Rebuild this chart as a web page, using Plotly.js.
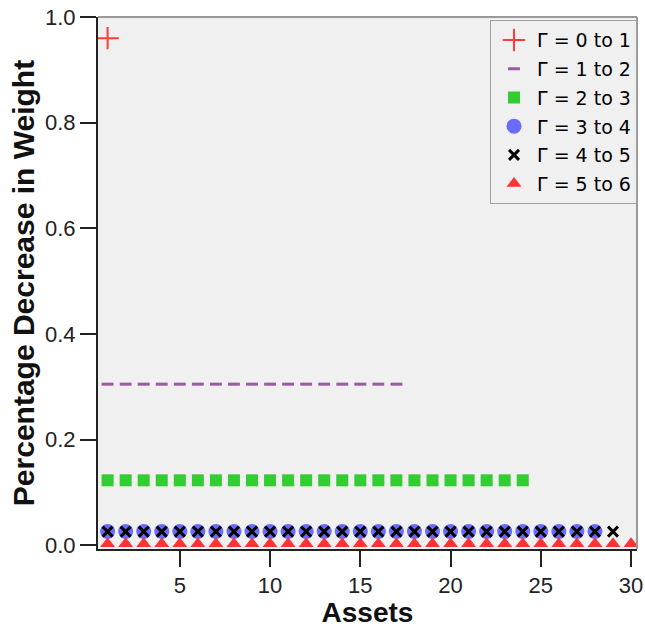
<!DOCTYPE html>
<html>
<head>
<meta charset="utf-8">
<script src="https://cdn.plot.ly/plotly-3.0.1.min.js"></script>
<style>html,body{margin:0;padding:0;background:#fff}#chart{width:645px;height:628px}</style>
</head>
<body>
<div id="chart"></div>
<script>
// Data
const seriesNames = ["Γ = 0 to 1", "Γ = 1 to 2", "Γ = 2 to 3", "Γ = 3 to 4", "Γ = 4 to 5", "Γ = 5 to 6"];
const assets01 = [1];
const values01 = [0.96];
const assets12 = [1,2,3,4,5,6,7,8,9,10,11,12,13,14,15,16,17];
const values12 = [0.305,0.305,0.305,0.305,0.305,0.305,0.305,0.305,0.305,0.305,0.305,0.305,0.305,0.305,0.305,0.305,0.305];
const assets23 = [1,2,3,4,5,6,7,8,9,10,11,12,13,14,15,16,17,18,19,20,21,22,23,24];
const values23 = [0.123,0.123,0.123,0.123,0.123,0.123,0.123,0.123,0.123,0.123,0.123,0.123,0.123,0.123,0.123,0.123,0.123,0.123,0.123,0.123,0.123,0.123,0.123,0.123];
const assets34 = [1,2,3,4,5,6,7,8,9,10,11,12,13,14,15,16,17,18,19,20,21,22,23,24,25,26,27,28];
const values34 = [0.026,0.026,0.026,0.026,0.026,0.026,0.026,0.026,0.026,0.026,0.026,0.026,0.026,0.026,0.026,0.026,0.026,0.026,0.026,0.026,0.026,0.026,0.026,0.026,0.026,0.026,0.026,0.026];
const assets45 = [1,2,3,4,5,6,7,8,9,10,11,12,13,14,15,16,17,18,19,20,21,22,23,24,25,26,27,28,29];
const values45 = [0.026,0.026,0.026,0.026,0.026,0.026,0.026,0.026,0.026,0.026,0.026,0.026,0.026,0.026,0.026,0.026,0.026,0.026,0.026,0.026,0.026,0.026,0.026,0.026,0.026,0.026,0.026,0.026,0.026];
const assets56 = [1,2,3,4,5,6,7,8,9,10,11,12,13,14,15,16,17,18,19,20,21,22,23,24,25,26,27,28,29,30];
const values56 = [0.003,0.003,0.003,0.003,0.003,0.003,0.003,0.003,0.003,0.003,0.003,0.003,0.003,0.003,0.003,0.003,0.003,0.003,0.003,0.003,0.003,0.003,0.003,0.003,0.003,0.003,0.003,0.003,0.003,0.003];
const xTicks = [5,10,15,20,25,30];
const yTicks = [0,0.2,0.4,0.6,0.8,1.0];
const yTickText = ["0.0","0.2","0.4","0.6","0.8","1.0"];

const traces = [
  {x: assets01, y: values01, name: seriesNames[0], legendgroup: "g0", mode: "markers", type: "scatter",
   marker: {symbol: "cross-thin-open", size: 16, line: {color: "#ff3b3b", width: 2}, color: "#ff3b3b"}},
  {x: assets12, y: values12, name: seriesNames[1], legendgroup: "g1", mode: "markers", type: "scatter",
   marker: {symbol: "line-ew-open", size: 8.5, line: {color: "#9a5a9e", width: 3}, color: "#9a5a9e"}},
  {x: assets23, y: values23, name: seriesNames[2], legendgroup: "g2", mode: "markers", type: "scatter",
   marker: {symbol: "square", size: 12, color: "#33cc33", line: {width: 0}}},
  {x: assets34, y: values34, name: seriesNames[3], legendgroup: "g3", mode: "markers", type: "scatter",
   marker: {symbol: "circle", size: 15, color: "#6b6bff", line: {width: 0}}},
  {x: assets45, y: values45, name: seriesNames[4], legendgroup: "g4", mode: "markers", type: "scatter",
   marker: {symbol: "x-thin-open", size: 10, line: {color: "#000000", width: 3}, color: "#000000"}},
  {x: assets56, y: values56, name: seriesNames[5], legendgroup: "g5", mode: "markers", type: "scatter",
   marker: {symbol: "triangle-up", size: 13, color: "#ff3333", line: {width: 0}}}
];

const layout = {
  width: 645, height: 628,
  margin: {l: 98, r: 8, t: 17, b: 79},
  paper_bgcolor: "#ffffff",
  plot_bgcolor: "#f0f0f0",
  showlegend: true,
  legend: {
    x: 1, y: 0.994, xanchor: "right", yanchor: "top",
    bgcolor: "#f0f0f0", bordercolor: "#a0a0a0", borderwidth: 1,
    font: {family: "DejaVu Sans", size: 19, color: "#000"},
    itemwidth: 36, tracegroupgap: 1
  },
  xaxis: {
    range: [0.468, 30.33],
    tickvals: xTicks, ticktext: xTicks.map(String),
    ticks: "outside", ticklen: 16, tickwidth: 2, tickcolor: "#222",
    ticklabeloverflow: "allow",
    showline: true, linecolor: "#222", linewidth: 2,
    showgrid: false, zeroline: false,
    tickfont: {family: "Liberation Sans", size: 22, color: "#222"},
    title: {text: "<b>Assets</b>", font: {family: "Liberation Sans", size: 28, color: "#111"}, standoff: 2}
  },
  yaxis: {
    range: [-0.007, 1.0],
    tickvals: yTicks, ticktext: yTickText,
    ticks: "outside", ticklen: 16, tickwidth: 2, tickcolor: "#222",
    ticklabeloverflow: "allow",
    showline: true, linecolor: "#222", linewidth: 2,
    showgrid: false, zeroline: false,
    tickfont: {family: "Liberation Sans", size: 22, color: "#222"},
    title: {text: "<b>Percentage Decrease in Weight</b>", font: {family: "Liberation Sans", size: 30, color: "#111"}, standoff: 2}
  },
  shapes: [
    {type: "line", xref: "paper", yref: "paper", x0: 0, x1: 1, y0: 1, y1: 1, line: {color: "#999", width: 2}},
    {type: "line", xref: "paper", yref: "paper", x0: 1, x1: 1, y0: 0, y1: 1, line: {color: "#999", width: 2}}
  ]
};

Plotly.newPlot("chart", traces, layout, {displayModeBar: false, staticPlot: true});
</script>
</body>
</html>
